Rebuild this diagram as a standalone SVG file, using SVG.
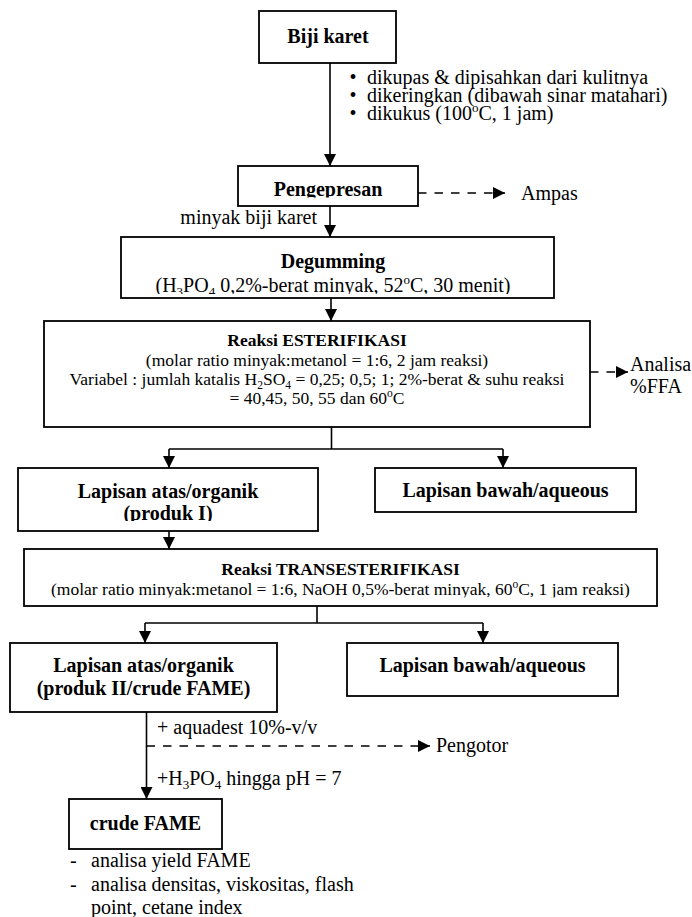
<svg xmlns="http://www.w3.org/2000/svg" width="692" height="917" viewBox="0 0 692 917">
<style>
text { font-family: "Liberation Serif", "Times New Roman", serif; fill: #000; }
.b { font-weight: bold; font-size: 20px; }
.r { font-size: 20px; }
.bs { font-weight: bold; font-size: 17.5px; }
.rs { font-size: 17.5px; }
.c { text-anchor: middle; }
.box { fill: #fff; stroke: #000; stroke-width: 1.8; }
.ln { fill: none; stroke: #000; stroke-width: 1.6; }
.dash { fill: none; stroke: #000; stroke-width: 1.5; stroke-dasharray: 8.5 8; }
</style>
<defs>
<marker id="arr" viewBox="0 0 12 12" markerWidth="12" markerHeight="12" markerUnits="userSpaceOnUse" refX="12" refY="6" orient="auto"><path d="M0,0 L12,6 L0,12 Z" fill="#000"/></marker>
<clipPath id="cp-peng"><rect x="238" y="166" width="180" height="31.5"/></clipPath>
<clipPath id="cp-deg"><rect x="121" y="237" width="433" height="57"/></clipPath>
<clipPath id="cp-prod1"><rect x="18" y="468" width="300" height="53"/></clipPath>
<clipPath id="cp-trans"><rect x="24" y="549" width="633" height="48.5"/></clipPath>
</defs>

<g id="connectors">
<path class="ln" d="M330,63 V166" marker-end="url(#arr)"/>
<path class="dash" d="M418,193 H505" marker-end="url(#arr)"/>
<path class="ln" d="M330,206 V237" marker-end="url(#arr)"/>
<path class="ln" d="M331,298 V321" marker-end="url(#arr)"/>
<path class="dash" d="M590,372 H628" marker-end="url(#arr)"/>
<path class="ln" d="M331.5,427 V449 M169,449 H503"/>
<path class="ln" d="M169,449 V468" marker-end="url(#arr)"/>
<path class="ln" d="M503,449 V468" marker-end="url(#arr)"/>
<path class="ln" d="M169,531 V549" marker-end="url(#arr)"/>
<path class="ln" d="M317,606 V623 M145,623 H483"/>
<path class="ln" d="M145,623 V643" marker-end="url(#arr)"/>
<path class="ln" d="M483,623 V643" marker-end="url(#arr)"/>
<path class="ln" d="M146.5,712 V799" marker-end="url(#arr)"/>
<path class="dash" d="M146.5,746 H430" marker-end="url(#arr)"/>
</g>

<g id="connector-labels">
<text class="r" x="353" y="84" text-anchor="middle">•</text>
<text class="r" x="367" y="84">dikupas &amp; dipisahkan dari kulitnya</text>
<text class="r" x="353" y="102" text-anchor="middle">•</text>
<text class="r" x="367" y="102">dikeringkan (dibawah sinar matahari)</text>
<text class="r" x="353" y="120" text-anchor="middle">•</text>
<text class="r" x="367" y="120">dikukus (100<tspan font-size="13" dy="-8">o</tspan><tspan dy="8">C, 1 jam)</tspan></text>
<text class="r" x="317" y="224" text-anchor="end">minyak biji karet</text>
<text class="r" x="157" y="734">+ aquadest 10%-v/v</text>
<text class="r" x="157" y="785">+H<tspan font-size="13" dy="4">3</tspan><tspan dy="-4">PO</tspan><tspan font-size="13" dy="4">4</tspan><tspan dy="-4"> hingga pH = 7</tspan></text>
</g>

<g id="biji-karet">
<rect class="box" x="259" y="11" width="137" height="52"/>
<text class="b c" x="328" y="43">Biji karet</text>
</g>

<g id="pengepresan">
<rect class="box" x="238" y="166" width="180" height="40"/>
<text class="b c" x="328" y="196" clip-path="url(#cp-peng)">Pengepresan</text>
</g>

<g id="ampas">
<text class="r" x="521" y="200">Ampas</text>
</g>

<g id="degumming">
<rect class="box" x="121" y="237" width="433" height="61"/>
<text class="b c" x="333" y="268">Degumming</text>
<text class="r c" x="333" y="291.5" clip-path="url(#cp-deg)">(H<tspan font-size="13" dy="4">3</tspan><tspan dy="-4">PO</tspan><tspan font-size="13" dy="4">4</tspan><tspan dy="-4"> 0,2%-berat minyak, 52</tspan><tspan font-size="13" dy="-8">o</tspan><tspan dy="8">C, 30 menit)</tspan></text>
</g>

<g id="esterifikasi">
<rect class="box" x="44" y="321" width="546" height="106"/>
<text class="bs c" x="317" y="346">Reaksi ESTERIFIKASI</text>
<text class="rs c" x="317" y="366">(molar ratio minyak:metanol = 1:6, 2 jam reaksi)</text>
<text class="rs c" x="317" y="385">Variabel : jumlah katalis H<tspan font-size="11.5" dy="3.5">2</tspan><tspan dy="-3.5">SO</tspan><tspan font-size="11.5" dy="3.5">4</tspan><tspan dy="-3.5"> = 0,25; 0,5; 1; 2%-berat &amp; suhu reaksi</tspan></text>
<text class="rs c" x="317" y="404">= 40,45, 50, 55 dan 60<tspan font-size="11.5" dy="-7">o</tspan><tspan dy="7">C</tspan></text>
</g>

<g id="analisa">
<text class="r" x="630" y="371">Analisa</text>
<text class="r" x="630" y="393">%FFA</text>
</g>

<g id="lapisan-atas-1">
<rect class="box" x="18" y="468" width="300" height="63"/>
<text class="b c" x="168" y="497.5">Lapisan atas/organik</text>
<text class="b c" x="168" y="519.5" clip-path="url(#cp-prod1)">(produk I)</text>
</g>

<g id="lapisan-bawah-1">
<rect class="box" x="375" y="468" width="261" height="44"/>
<text class="b c" x="505.5" y="496.5">Lapisan bawah/aqueous</text>
</g>

<g id="transesterifikasi">
<rect class="box" x="24" y="549" width="633" height="57"/>
<text class="bs c" x="340.5" y="575">Reaksi TRANSESTERIFIKASI</text>
<text class="rs c" x="340.5" y="595" clip-path="url(#cp-trans)">(molar ratio minyak:metanol = 1:6, NaOH 0,5%-berat minyak, 60<tspan font-size="11.5" dy="-7">o</tspan><tspan dy="7">C, 1 jam reaksi)</tspan></text>
</g>

<g id="lapisan-atas-2">
<rect class="box" x="10" y="643" width="267" height="69"/>
<text class="b c" x="143.5" y="671.5">Lapisan atas/organik</text>
<text class="b c" x="143.5" y="695">(produk II/crude FAME)</text>
</g>

<g id="lapisan-bawah-2">
<rect class="box" x="347" y="643" width="271" height="53"/>
<text class="b c" x="482.5" y="671.5">Lapisan bawah/aqueous</text>
</g>

<g id="pengotor">
<text class="r" x="436" y="752">Pengotor</text>
</g>

<g id="crude-fame">
<rect class="box" x="69" y="799" width="153" height="50"/>
<text class="b c" x="145.5" y="830">crude FAME</text>
<text class="r" x="70" y="867">-</text>
<text class="r" x="91" y="867">analisa yield FAME</text>
<text class="r" x="70" y="891">-</text>
<text class="r" x="91" y="891">analisa densitas, viskositas, flash</text>
<text class="r" x="91" y="914">point, cetane index</text>
</g>
</svg>
